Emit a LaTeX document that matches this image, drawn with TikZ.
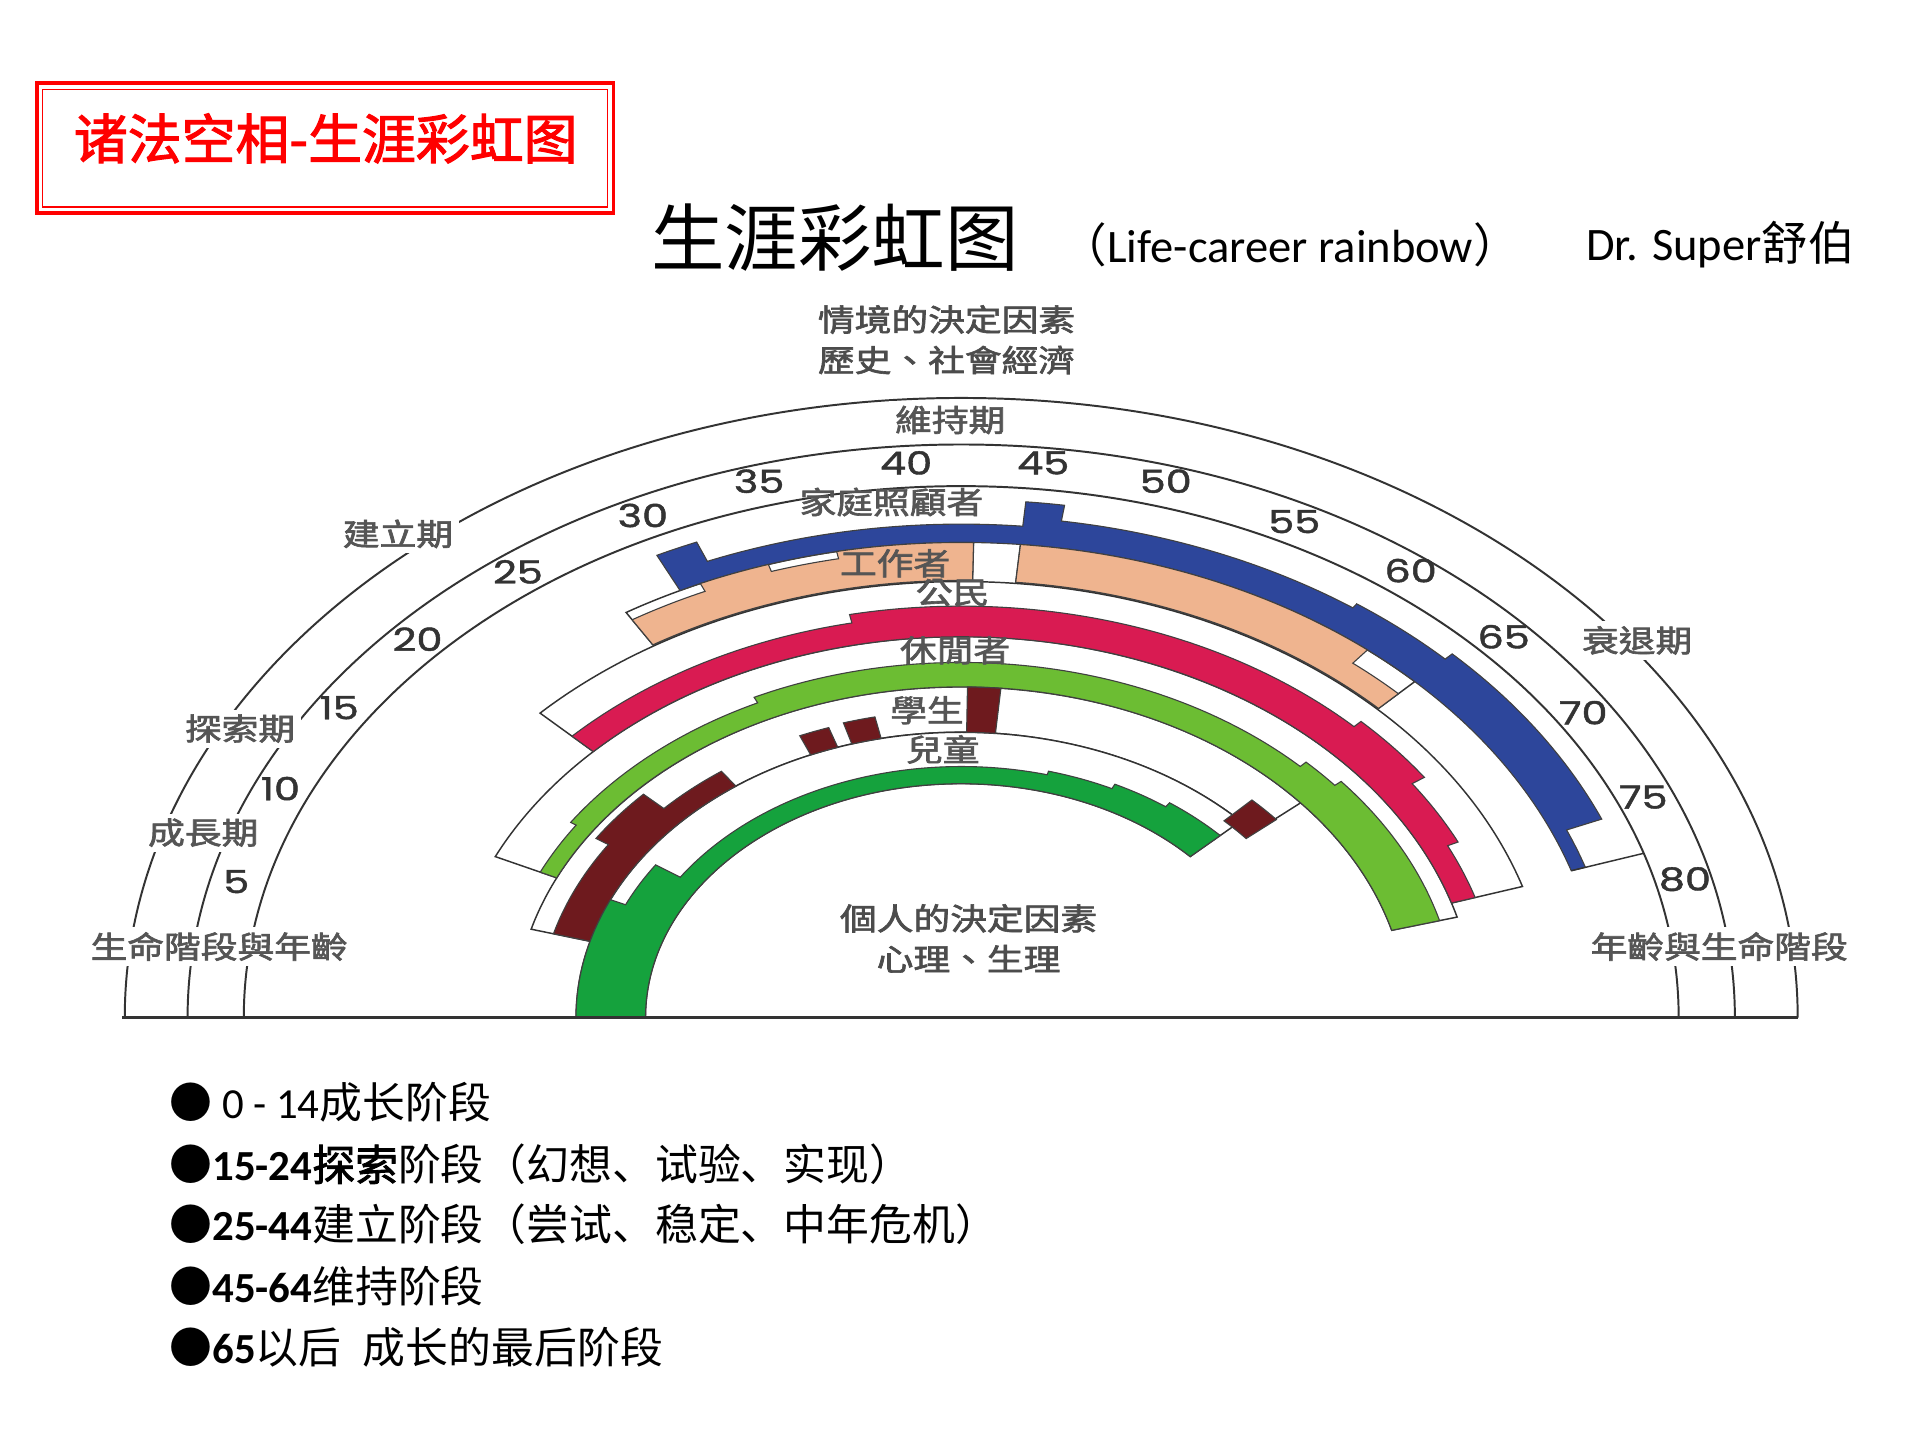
\documentclass[tikz,border=0pt]{standalone}
\usepackage{fontspec}
\usepackage{graphicx}
\setmainfont{Carlito}
\newfontfamily\cjk[AutoFakeBold=2]{Noto Sans CJK SC}
\newfontfamily\tcf[AutoFakeBold=2]{Noto Sans CJK TC}
\newfontfamily\numf[FakeBold=1.3]{Poppins}
\definecolor{hblue}{HTML}{2D469B}
\definecolor{hpeach}{HTML}{EFB48F}
\definecolor{hcrim}{HTML}{D91B52}
\definecolor{hlgreen}{HTML}{6CBD33}
\definecolor{hmaroon}{HTML}{6E1A1E}
\definecolor{hdgreen}{HTML}{15A23D}
\definecolor{hgray}{HTML}{555555}
\definecolor{hline}{HTML}{333333}
\newcommand\sector[5]{\path[#1] (#2:#4) arc[start angle=#2,end angle=#3,radius=#4] -- (#3:#5) arc[start angle=#3,end angle=#2,radius=#5] -- cycle;}
\begin{document}
\begin{tikzpicture}[x=0.5pt,y=-0.5pt,
  lab/.style={font=\tcf\bfseries\fontsize{12.5pt}{12.5pt}\selectfont, text=hgray, inner sep=0pt},
  boldlab/.style={font=\tcf\bfseries\fontsize{12.5pt}{12.5pt}\selectfont, text=hgray!90!black, inner sep=0pt},
  stagelab/.style={lab, fill=white, inner xsep=2.5pt, inner ysep=2pt},
  num/.style={font=\numf\fontsize{13pt}{13pt}\selectfont, text=hline, inner sep=0pt},
  arcline/.style={draw=hline, line width=0.8pt},
  boxline/.style={draw=hline, line width=0.6pt},
  fillline/.style={draw=black!75, line width=0.45pt},
  bullet/.style={anchor=west, font=\fontsize{17.5pt}{17.5pt}\selectfont, inner sep=0pt}
]
\path[use as bounding box, fill=white] (0,0) rectangle (1568,1176);

% red title box
\draw[red, line width=1.6pt] (30,68) rectangle (501,174);
\draw[red, line width=0.5pt] (35,73) rectangle (496,169);
\node[font=\cjk\bfseries\fontsize{22pt}{22pt}\selectfont, text=red, inner sep=0pt] (redtitle) at (266,113) {诸法空相-生涯彩虹图};

% titles
\node[font=\cjk\fontsize{30pt}{30pt}\selectfont, inner sep=0pt] (title) at (682,194) {生涯彩虹图};
\node[font=\fontsize{19pt}{19pt}\selectfont, anchor=west, inner sep=0pt] (sub) at (866,200) {{\cjk （}Life-career rainbow{\cjk ）}};
\node[font=\fontsize{19pt}{19pt}\selectfont, anchor=west, inner sep=0pt] (author) at (1295,200) {Dr. Super{\cjk 舒伯}};

% situational factors
\node[boldlab] (sit1) at (773,261) {\scalebox{1.2}[1]{情境的決定因素}};
\node[boldlab] (sit2) at (773,294) {\scalebox{1.2}[1]{歷史、社會經濟}};

\begin{scope}[shift={(785,831)}, xscale=1.35, yscale=-1]
 % life stage / age arcs
 \draw[arcline] (180:506) arc[start angle=180,end angle=0,radius=506];
 \draw[arcline] (180:468) arc[start angle=180,end angle=0,radius=468];
 \draw[arcline] (180:434) arc[start angle=180,end angle=0,radius=434];

 % role outlines
 \sector{boxline,fill=white}{135.7}{17.5}{311}{356}
 \sector{boxline,fill=white}{155}{15.3}{270}{311}
 \sector{boxline,fill=white}{164.5}{40.5}{233}{270}
 \sector{boxline,fill=white}{180}{43.5}{191}{233}
 \sector{boxline,fill=white}{121.5}{88.9}{357}{388}
 \sector{boxline,fill=white}{84.7}{45}{357}{388}

 % homemaker (blue)
 \path[fillline, fill=hblue] (116:388) arc[start angle=116,end angle=18,radius=388]
   \foreach \a/\b/\r in {18/22.7/397,22.7/45/420,45/54.7/414,54.7/81.5/410,81.5/84.7/423,84.7/112.4/403,112.4/116/420}{ -- (\a:\r) arc[start angle=\a,end angle=\b,radius=\r]} -- cycle;
 \draw[boxline] (18:388) -- (18:434);

 % worker (peach)
 \path[fillline, fill=hpeach] (121.5:357) arc[start angle=121.5,end angle=88.9,radius=357]
   \foreach \a/\b/\r in {88.9/101.2/388,101.2/107.5/382,107.5/114/388,114/121.5/381}{ -- (\a:\r) arc[start angle=\a,end angle=\b,radius=\r]} -- cycle;
 \path[fillline, fill=hpeach] (84.7:357) arc[start angle=84.7,end angle=45,radius=357]
   \foreach \a/\b/\r in {45/50.7/374,50.7/84.7/388}{ -- (\a:\r) arc[start angle=\a,end angle=\b,radius=\r]} -- cycle;

 % citizen (crimson)
 \path[fillline, fill=hcrim] (135.7:311) arc[start angle=135.7,end angle=17.5,radius=311]
   \foreach \a/\b/\r in {17.5/25.5/326,25.5/35/333,35/45/342,45/101.6/336,101.6/135.7/329}{ -- (\a:\r) arc[start angle=\a,end angle=\b,radius=\r]} -- cycle;

 % leisurite (light green)
 \path[fillline, fill=hlgreen] (155:270) arc[start angle=155,end angle=15.3,radius=270]
   \foreach \a/\b/\r in {15.3/40/300,40/45/295,45/115.6/290,115.6/146/285,146/155/281}{ -- (\a:\r) arc[start angle=\a,end angle=\b,radius=\r]} -- cycle;

 % student (maroon)
 \path[fillline, fill=hmaroon] (164.5:233) arc[start angle=164.5,end angle=125.8,radius=233]
   \foreach \a/\b/\r in {125.8/136.5/248,136.5/146.5/265,146.5/164.5/256}{ -- (\a:\r) arc[start angle=\a,end angle=\b,radius=\r]} -- cycle;
 \sector{fillline,fill=hmaroon}{113}{108.7}{233}{250}
 \sector{fillline,fill=hmaroon}{106.5}{102}{233}{251}
 \sector{fillline,fill=hmaroon}{89.2}{84.9}{233}{270}
 \sector{fillline,fill=hmaroon}{45.3}{40.3}{226}{250}

 % child (dark green)
 \path[fillline, fill=hdgreen] (180:191) arc[start angle=180,end angle=43.5,radius=191]
   \foreach \a/\b/\r in {43.5/54.3/216,54.3/64/212,64/75.3/208,75.3/146/205,146/155.6/223,155.6/180/233}{ -- (\a:\r) arc[start angle=\a,end angle=\b,radius=\r]} -- cycle;
\end{scope}

% baseline
\draw[draw=hline, line width=1pt] (100,831) -- (1468,831);

% life stage labels
\node[stagelab] (s1) at (776,343) {\scalebox{1.2}[1]{維持期}};
\node[stagelab] (s2) at (325,436) {\scalebox{1.2}[1]{建立期}};
\node[stagelab] (s3) at (196,595) {\scalebox{1.2}[1]{探索期}};
\node[stagelab] (s4) at (166,680) {\scalebox{1.2}[1]{成長期}};
\node[stagelab] (s5) at (1337,523) {\scalebox{1.2}[1]{衰退期}};
\node[stagelab] (s6) at (179,773) {\scalebox{1.2}[1]{生命階段與年齡}};
\node[stagelab] (s7) at (1404,773) {\scalebox{1.2}[1]{年齡與生命階段}};

% ages
\node[num] (a5) at (193,720) {\scalebox{1.3}[1]{5}};
\node[num] (a10) at (229,644) {\scalebox{1.3}[1]{10}};
\node[num] (a15) at (277,578) {\scalebox{1.3}[1]{15}};
\node[num] (a20) at (341,522) {\scalebox{1.3}[1]{20}};
\node[num] (a25) at (423,467) {\scalebox{1.3}[1]{25}};
\node[num] (a30) at (525,421) {\scalebox{1.3}[1]{30}};
\node[num] (a35) at (620,393) {\scalebox{1.3}[1]{35}};
\node[num] (a40) at (740,378) {\scalebox{1.3}[1]{40}};
\node[num] (a45) at (852,378) {\scalebox{1.3}[1]{45}};
\node[num] (a50) at (952,393) {\scalebox{1.3}[1]{50}};
\node[num] (a55) at (1057,426) {\scalebox{1.3}[1]{55}};
\node[num] (a60) at (1152,466) {\scalebox{1.3}[1]{60}};
\node[num] (a65) at (1228,520) {\scalebox{1.3}[1]{65}};
\node[num] (a70) at (1293,582) {\scalebox{1.3}[1]{70}};
\node[num] (a75) at (1342,651) {\scalebox{1.3}[1]{75}};
\node[num] (a80) at (1376,718) {\scalebox{1.3}[1]{80}};

% role labels
\node[lab] (r1) at (728,410) {\scalebox{1.2}[1]{家庭照顧者}};
\node[lab] (r2) at (731,460) {\scalebox{1.2}[1]{工作者}};
\node[lab] (r3) at (778,484) {\scalebox{1.2}[1]{公民}};
\node[lab] (r4) at (780,531) {\scalebox{1.2}[1]{休閒者}};
\node[lab] (r5) at (757,580) {\scalebox{1.2}[1]{學生}};
\node[lab] (r6) at (770,612) {\scalebox{1.2}[1]{兒童}};

% personal factors
\node[boldlab] (p1) at (791,750) {\scalebox{1.2}[1]{個人的決定因素}};
\node[boldlab] (p2) at (791,783) {\scalebox{1.2}[1]{心理、生理}};

% bullet list
\node[bullet] (b1) at (138,900) {{\cjk ●} 0 - 14{\cjk 成长阶段}};
\node[bullet] (b2) at (138,951) {{\cjk ●}{\bfseries 15-24}{\cjk\bfseries 探索}{\cjk 阶段（幻想、试验、实现）}};
\node[bullet] (b3) at (138,1000) {{\cjk ●}{\bfseries 25-44}{\cjk 建立阶段（尝试、稳定、中年危机）}};
\node[bullet] (b4) at (138,1050) {{\cjk ●}{\bfseries 45-64}{\cjk 维持阶段}};
\node[bullet] (b5) at (138,1100) {{\cjk ●}{\bfseries 65}{\cjk 以后\hspace{0.5em}成长的最后阶段}};
\end{tikzpicture}
\end{document}
